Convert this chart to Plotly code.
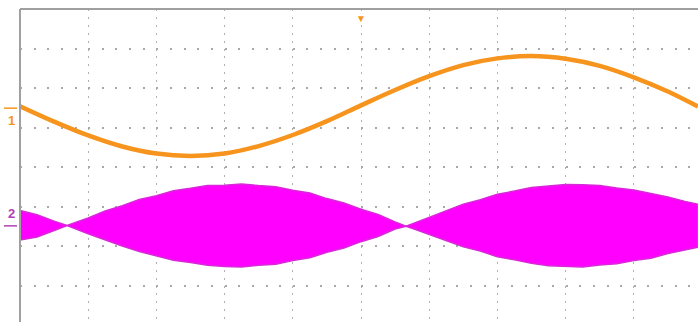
import plotly.graph_objects as go

# ---- Data (time in divisions, voltage in divisions) ----
CH1_T = [0, 0.5, 1.0, 1.5, 2.0, 2.5, 3.0, 3.5, 4.0, 4.5, 5.0,
         5.5, 6.0, 6.5, 7.0, 7.5, 8.0, 8.5, 9.0, 9.5, 9.94]
CH1_V = [1.54, 1.15, 0.80, 0.52, 0.34, 0.28, 0.34, 0.53, 0.81, 1.16, 1.56,
         1.95, 2.30, 2.58, 2.75, 2.81, 2.74, 2.56, 2.27, 1.91, 1.53]

CH2_T = [0, 0.25, 0.5, 0.69, 1.0, 1.25, 1.5, 1.75, 2.0, 2.25, 2.5, 2.75, 3.0,
         3.25, 3.5, 3.75, 4.0, 4.25, 4.5, 4.75, 5.0, 5.25, 5.5, 5.66, 5.75,
         6.0, 6.25, 6.5, 6.75, 7.0, 7.25, 7.5, 7.75, 8.0, 8.25, 8.5, 8.75,
         9.0, 9.25, 9.5, 9.75, 9.94]
CH2_UPPER = [-1.10, -1.21, -1.37, -1.48, -1.29, -1.11, -0.98, -0.82, -0.73,
             -0.60, -0.54, -0.47, -0.46, -0.43, -0.47, -0.50, -0.59, -0.66,
             -0.80, -0.91, -1.07, -1.20, -1.39, -1.50, -1.44, -1.27, -1.11,
             -0.94, -0.83, -0.69, -0.61, -0.52, -0.48, -0.44, -0.45, -0.47,
             -0.53, -0.58, -0.67, -0.76, -0.87, -0.94]
CH2_LOWER = [-1.85, -1.77, -1.61, -1.48, -1.69, -1.85, -2.00, -2.14, -2.25,
             -2.36, -2.42, -2.49, -2.52, -2.53, -2.49, -2.46, -2.37, -2.30,
             -2.16, -2.05, -1.89, -1.76, -1.57, -1.50, -1.55, -1.71, -1.87,
             -2.02, -2.13, -2.27, -2.35, -2.44, -2.50, -2.52, -2.53, -2.48,
             -2.45, -2.37, -2.31, -2.19, -2.10, -2.03]

CH1_LEVEL = 1.49
CH2_LEVEL = -1.49
TRIGGER_POS = 5.0
CH_LABELS = ["1", "2"]

ORANGE = "#F7941D"
MAGENTA = "#FF00FF"
PURPLE = "#B040B8"

W, H = 698, 322
ML, MT = 20, 9
DIV_X = 68.2
DIV_Y = 39.5
CENTER_Y_PX = 167

fig = go.Figure()

fig.add_trace(go.Scatter(x=CH2_T, y=CH2_UPPER, mode="lines",
                         line=dict(color="#D828D8", width=1.5),
                         hoverinfo="skip", showlegend=False))
fig.add_trace(go.Scatter(x=CH2_T, y=CH2_LOWER, mode="lines",
                         line=dict(color="#D828D8", width=1.5),
                         fill="tonexty", fillcolor=MAGENTA,
                         hoverinfo="skip", showlegend=False))
fig.add_trace(go.Scatter(x=CH1_T, y=CH1_V, mode="lines",
                         line=dict(color=ORANGE, width=4.5, shape="spline"),
                         hoverinfo="skip", showlegend=False))

plot_w = W - ML
plot_h = H - MT
x_max = plot_w / DIV_X
y_top = (CENTER_Y_PX - MT) / DIV_Y
y_bot = -(H - CENTER_Y_PX) / DIV_Y

fig.update_layout(
    width=W, height=H,
    margin=dict(l=ML, r=0, t=MT, b=0, pad=0),
    paper_bgcolor="white", plot_bgcolor="white",
    xaxis=dict(range=[0, x_max], dtick=1, tick0=0, showgrid=True,
               gridcolor="#b0b0b0", gridwidth=1, griddash="2px,5.9px",
               showticklabels=False, zeroline=False, showline=False,
               fixedrange=True),
    yaxis=dict(range=[y_bot, y_top], dtick=1, tick0=0, showgrid=True,
               gridcolor="#a8a8a8", gridwidth=1.5, griddash="2px,11.64px",
               showticklabels=False, zeroline=False, showline=False,
               fixedrange=True),
)

# border (left and top)
fig.add_shape(type="line", xref="paper", yref="paper", x0=0, x1=0, y0=0, y1=1,
              line=dict(color="#a0a0a0", width=2))
fig.add_shape(type="line", xref="paper", yref="paper", x0=0, x1=1, y0=1, y1=1,
              line=dict(color="#a0a0a0", width=2))

# channel ground markers
px2paper = lambda px: (px - ML) / plot_w
fig.add_shape(type="line", xref="paper", yref="y", x0=px2paper(4), x1=px2paper(17),
              y0=CH1_LEVEL, y1=CH1_LEVEL, line=dict(color=ORANGE, width=1.5))
fig.add_shape(type="line", xref="paper", yref="y", x0=px2paper(4), x1=px2paper(17),
              y0=CH2_LEVEL, y1=CH2_LEVEL, line=dict(color=PURPLE, width=1.5))
fig.add_annotation(text="<b>%s</b>" % CH_LABELS[0], xref="paper", yref="y",
                   x=px2paper(11), y=CH1_LEVEL - 0.06, xanchor="center", yanchor="top",
                   showarrow=False, font=dict(family="Liberation Sans", size=13, color=ORANGE))
fig.add_annotation(text="<b>%s</b>" % CH_LABELS[1], xref="paper", yref="y",
                   x=px2paper(11), y=CH2_LEVEL + 0.06, xanchor="center", yanchor="bottom",
                   showarrow=False, font=dict(family="Liberation Sans", size=13, color=PURPLE))

# trigger position marker
fig.add_annotation(text="▼", xref="x", yref="paper", x=TRIGGER_POS, y=1.0,
                   xanchor="center", yanchor="top", showarrow=False,
                   font=dict(size=10, color=ORANGE))

fig.write_html("out.html")
